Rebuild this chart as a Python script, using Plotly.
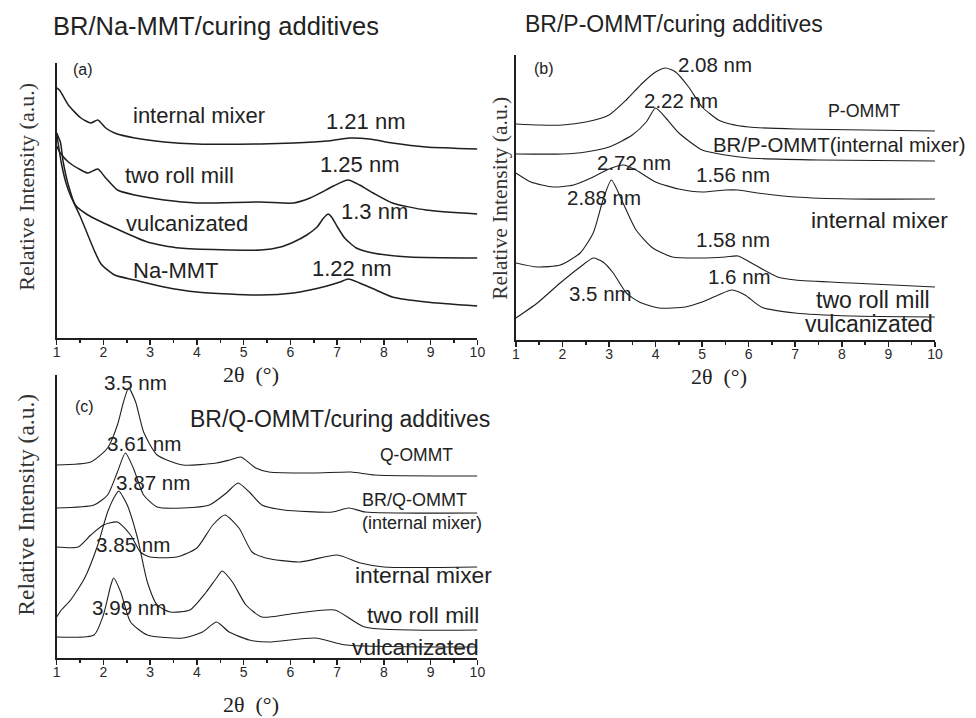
import plotly.graph_objects as go

W, H = 976, 718

# ---------------- Panel (a) BR/Na-MMT/curing additives ----------------
a_im_x = [1.0, 1.06, 1.25, 1.52, 1.73, 1.88, 2.05, 2.24, 2.67, 3.3, 4.0, 5.37, 6.07, 6.78, 7.27, 7.69, 8.18, 8.9, 10.0]
a_im_y = [250, 248, 233, 220, 215, 218, 210, 205, 200, 196, 194, 194, 195, 197, 200, 199, 195, 191, 189]

a_trm_x = [1.0, 1.08, 1.25, 1.52, 1.67, 1.88, 2.05, 2.3, 2.67, 3.3, 4.0, 5.37, 6.07, 6.42, 6.64, 6.92, 7.23, 7.48, 7.77, 8.18, 8.9, 10.0]
a_trm_y = [192, 185, 176, 168, 165, 169, 160, 148, 143, 138, 135, 136, 135, 140, 145, 152, 158, 153, 145, 135, 128, 124]

a_v_x = [1.0, 1.08, 1.14, 1.25, 1.4, 1.67, 2.24, 2.94, 3.63, 5.37, 5.79, 6.07, 6.35, 6.57, 6.71, 6.81, 6.88, 7.02, 7.16, 7.41, 7.76, 8.54, 10.0]
a_v_y = [205, 196, 176, 153, 133, 123, 110, 96, 90, 88, 91, 96, 103, 111, 120, 124, 121, 110, 100, 90, 85, 81, 80]

a_na_x = [1.0, 1.1, 1.2, 1.3, 1.5, 1.65, 1.8, 1.95, 2.24, 2.67, 3.3, 4.0, 5.37, 6.07, 6.42, 6.78, 7.06, 7.24, 7.48, 7.83, 8.18, 8.9, 10.0]
a_na_y = [205, 175, 155, 142, 122, 105, 88, 74, 63, 58, 51, 46, 43, 45, 48, 52, 56, 59, 55, 48, 41, 36, 32]

# ---------------- Panel (b) BR/P-OMMT/curing additives ----------------
b_p_x = [1.0, 1.5, 2.0, 2.5, 3.0, 3.37, 3.72, 4.0, 4.22, 4.43, 4.71, 5.0, 5.35, 5.6, 6.0, 7.0, 8.5, 10.0]
b_p_y = [216, 215, 215, 218, 225, 240, 257, 268, 272, 268, 253, 233, 220, 216, 213, 211, 210, 209]

b_brp_x = [1.0, 2.0, 2.5, 3.0, 3.5, 3.8, 4.0, 4.22, 4.5, 5.0, 5.5, 6.0, 7.5, 10.0]
b_brp_y = [186, 186, 188, 193, 205, 218, 232, 222, 207, 190, 185, 182, 180, 179]

b_im_x = [1.0, 1.32, 1.8, 2.24, 2.66, 3.0, 3.3, 3.58, 4.0, 4.5, 5.0, 5.5, 5.77, 6.2, 7.0, 8.2, 10.0]
b_im_y = [167, 158, 153, 155, 163, 171, 175, 170, 158, 151, 148, 150, 150, 147, 143, 141, 141]

b_trm_x = [1.0, 1.46, 1.95, 2.38, 2.66, 2.87, 3.05, 3.3, 3.58, 3.94, 4.36, 5.0, 5.5, 5.77, 6.06, 6.62, 7.0, 8.2, 10.0]
b_trm_y = [77, 73, 75, 87, 107, 140, 160, 137, 110, 92, 83, 82, 83, 84, 77, 63, 60, 57, 53]

b_v_x = [1.0, 1.46, 1.95, 2.38, 2.66, 2.87, 3.09, 3.37, 3.65, 4.08, 4.64, 5.0, 5.35, 5.63, 5.92, 6.27, 7.0, 8.2, 10.0]
b_v_y = [22, 37, 57, 73, 82, 78, 67, 47, 38, 32, 33, 38, 45, 50, 45, 33, 27, 24, 23]

# ---------------- Panel (c) BR/Q-OMMT/curing additives ----------------
c_q_x = [1.0, 1.73, 2.09, 2.3, 2.43, 2.54, 2.69, 2.86, 3.15, 3.7, 4.42, 4.7, 4.94, 5.26, 5.54, 6.5, 7.3, 7.8, 10.0]
c_q_y = [193, 196, 210, 233, 256, 270, 256, 226, 203, 193, 195, 198, 201, 190, 186, 185, 186, 183, 182]

c_brq_x = [1.0, 1.8, 2.09, 2.3, 2.47, 2.64, 2.86, 3.15, 3.7, 4.27, 4.63, 4.88, 5.12, 5.39, 5.86, 6.9, 7.25, 7.6, 10.0]
c_brq_y = [150, 153, 163, 186, 205, 190, 163, 151, 150, 153, 165, 175, 166, 153, 148, 146, 150, 146, 145]

c_im_x = [1.0, 1.46, 1.73, 2.0, 2.3, 2.58, 2.79, 3.0, 3.57, 4.0, 4.34, 4.6, 4.9, 5.18, 5.47, 6.2, 7.0, 7.5, 8.0, 10.0]
c_im_y = [111, 111, 123, 133, 136, 123, 106, 101, 101, 110, 133, 143, 130, 106, 100, 96, 103, 95, 91, 91]

c_trm_x = [1.0, 1.1, 1.3, 1.6, 1.88, 2.09, 2.26, 2.33, 2.51, 2.73, 2.94, 3.15, 3.43, 3.85, 4.2, 4.42, 4.54, 4.76, 5.05, 5.39, 6.0, 6.95, 7.59, 10.0]
c_trm_y = [41, 48, 58, 80, 113, 146, 163, 167, 153, 120, 76, 53, 46, 48, 66, 80, 87, 76, 53, 41, 44, 48, 31, 28]

c_v_x = [1.0, 1.8, 2.0, 2.16, 2.22, 2.37, 2.58, 2.94, 3.7, 4.12, 4.42, 4.69, 5.12, 5.54, 6.53, 7.2, 10.0]
c_v_y = [21, 23, 43, 73, 80, 66, 36, 23, 20, 26, 36, 26, 18, 16, 20, 13, 11]

x_tick_vals = [1, 2, 3, 4, 5, 6, 7, 8, 9, 10]
x_tick_text = ["1", "2", "3", "4", "5", "6", "7", "8", "9", "10"]

panel_titles = ["BR/Na-MMT/curing additives", "BR/P-OMMT/curing additives", "BR/Q-OMMT/curing additives"]
panel_tags = ["(a)", "(b)", "(c)"]
y_title = "Relative Intensity (a.u.)"
x_title = "2θ  (°)"

# ---------------- layout helpers (pixel geometry) ----------------
INK = "#1f1f1f"
SANS = "Liberation Sans, Arial, sans-serif"
SERIF = "Liberation Serif, Times New Roman, serif"

panels = {
    "a": dict(x0=53.3, x1=479.3, top=63, bottom=338, ax="x", ay="y"),
    "b": dict(x0=518.3, x1=942.5, top=55, bottom=340, ax="x2", ay="y2"),
    "c": dict(x0=53.3, x1=479.3, top=375, bottom=658, ax="x3", ay="y3"),
}


def px(xp):
    return xp / W


def py(yp):
    return 1 - yp / H


fig = go.Figure()

series = {
    "a": [(a_im_x, a_im_y), (a_trm_x, a_trm_y), (a_v_x, a_v_y), (a_na_x, a_na_y)],
    "b": [(b_p_x, b_p_y), (b_brp_x, b_brp_y), (b_im_x, b_im_y), (b_trm_x, b_trm_y), (b_v_x, b_v_y)],
    "c": [(c_q_x, c_q_y), (c_brq_x, c_brq_y), (c_im_x, c_im_y), (c_trm_x, c_trm_y), (c_v_x, c_v_y)],
}
line_w = {"a": 1.5, "b": 1.1, "c": 1.1}

for key, lst in series.items():
    p = panels[key]
    for xs, ys in lst:
        fig.add_trace(go.Scatter(
            x=xs, y=ys, mode="lines",
            line=dict(color=INK, width=line_w[key], shape="spline", smoothing=0.6),
            xaxis=p["ax"], yaxis=p["ay"], hoverinfo="skip", showlegend=False,
        ))

layout = dict(
    width=W, height=H, margin=dict(l=0, r=0, t=0, b=0),
    paper_bgcolor="white", plot_bgcolor="white", showlegend=False,
)

for key, p in panels.items():
    xname = "xaxis" if p["ax"] == "x" else "xaxis" + p["ax"][1:]
    yname = "yaxis" if p["ay"] == "y" else "yaxis" + p["ay"][1:]
    layout[xname] = dict(
        domain=[px(p["x0"]), px(p["x1"])], anchor=p["ay"], range=[1, 10],
        tickmode="array", tickvals=x_tick_vals, ticktext=x_tick_text,
        ticks="outside", ticklen=5, tickwidth=1.5, tickcolor=INK,
        showline=True, linewidth=2, linecolor=INK, showgrid=False, zeroline=False,
        tickfont=dict(family=SANS, size=14, color="#2a2a2a"),
        ticklabelstandoff=-5,
        minor=dict(ticks="outside", ticklen=3, tickwidth=1.5, tickcolor=INK, dtick=0.5, tick0=1, showgrid=False),
    )
    layout[yname] = dict(
        domain=[py(p["bottom"]), py(p["top"])], anchor=p["ax"], range=[0, p["bottom"] - p["top"]],
        showline=True, linewidth=2, linecolor=INK, showticklabels=False, ticks="",
        showgrid=False, zeroline=False,
    )

fig.update_layout(**layout)

ann = []


def label(text, x, y, size, family=SANS, color="#222", angle=0):
    ann.append(dict(text=text, x=px(x), y=py(y), xref="paper", yref="paper",
                    showarrow=False, xanchor="center", yanchor="middle", textangle=angle,
                    font=dict(family=family, size=size, color=color)))


# titles
label(panel_titles[0], 215, 26, 25.5)
label(panel_titles[1], 678, 24, 23)
label(panel_titles[2], 340, 419, 23)
# panel tags
label(panel_tags[0], 80, 70, 16)
label(panel_tags[1], 547, 68, 16)
label(panel_tags[2], 82, 406, 16)
# y titles
label(y_title, 22, 187, 22, SERIF, "#333", -90)
label(y_title, 502, 198, 21.5, SERIF, "#333", -90)
label(y_title, 22, 505, 23.5, SERIF, "#333", -90)
# x titles
label(x_title, 250, 374, 22, SERIF, "#222")
label(x_title, 724, 377, 22, SERIF, "#222")
label(x_title, 250, 704, 22, SERIF, "#222")

# panel (a) labels
label("internal mixer", 197, 115, 22)
label("1.21 nm", 366, 121, 22)
label("two roll mill", 178, 176, 22)
label("1.25 nm", 360, 165, 22)
label("1.3 nm", 375, 211, 22)
label("vulcanizated", 185, 224, 22)
label("Na-MMT", 174, 270, 22)
label("1.22 nm", 352, 268, 22)

# panel (b) labels
label("2.08 nm", 720, 65, 20.5)
label("2.22 nm", 685, 100, 20.5)
label("P-OMMT", 871, 111, 17.8)
label("BR/P-OMMT(internal mixer)", 846, 145, 20.4)
label("2.72 nm", 638, 162, 20.5)
label("1.56 nm", 738, 174, 20.5)
label("2.88 nm", 607, 197, 20.5)
label("internal mixer", 886, 220, 22.8)
label("1.58 nm", 738, 239, 20.5)
label("1.6 nm", 745, 277, 20.5)
label("3.5 nm", 604, 293, 20.5)
label("two roll mill", 880, 300, 23)
label("vulcanizated", 876, 324, 23)

# panel (c) labels
label("3.5 nm", 133, 382, 20.6)
label("3.61 nm", 142, 443, 20.6)
label("Q-OMMT", 418, 455, 17.5)
label("3.87 nm", 151, 483, 20.6)
label("BR/Q-OMMT", 416, 500, 18)
label("(internal mixer)", 423, 523, 18)
label("3.85 nm", 131, 544, 20.6)
label("internal mixer", 425, 575, 22.8)
label("two roll mill", 424, 615, 22.7)
label("3.99 nm", 127, 607, 20.6)
label("vulcanizated", 417, 647, 22.8)

fig.update_layout(annotations=ann)

fig.write_html(
    "out.html",
    config={"displayModeBar": False, "staticPlot": True},
    post_script="document.body.style.margin='0';document.body.style.padding='0';",
)
